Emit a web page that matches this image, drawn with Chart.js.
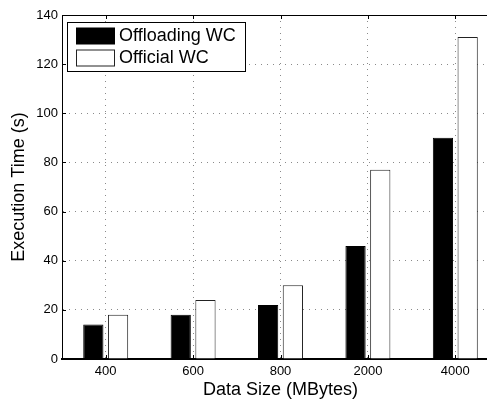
<!DOCTYPE html>
<html>
<head>
<meta charset="utf-8">
<script src="https://cdn.jsdelivr.net/npm/chart.js@4/dist/chart.umd.min.js"></script>
<style>
  html, body { margin: 0; padding: 0; background: #fff; overflow: hidden; }
  /* the axes run past the right edge of the figure and are clipped there */
  #wrap { width: 487px; height: 399px; overflow: hidden; }
  canvas { display: block; }
</style>
</head>
<body>
<div id="wrap"><canvas id="c" width="499" height="399"></canvas></div>
<script>
// Data sizes on the x axis
const categories = ['400', '600', '800', '2000', '4000'];
// Execution time in seconds
const offloadingWC = [14, 18, 22, 46, 90];
const officialWC = [18, 24, 30, 77, 131];
// Y axis tick values
const yTicks = [0, 20, 40, 60, 80, 100, 120, 140];

const FONT = "'Liberation Sans', Arial, Helvetica, sans-serif";

// Frame top edge, inward tick marks and the boxed legend
const framePlugin = {
  id: 'frame',
  afterDraw(chart) {
    const { ctx, chartArea: a, scales: { x, y } } = chart;
    ctx.save();
    ctx.strokeStyle = '#000';
    ctx.lineWidth = 1;
    // top edge
    ctx.beginPath();
    ctx.moveTo(a.left, Math.round(a.top) + 0.5);
    ctx.lineTo(a.right, Math.round(a.top) + 0.5);
    ctx.stroke();
    // inward ticks
    const tl = 4;
    ctx.beginPath();
    categories.forEach((c, i) => {
      const px = Math.round(x.getPixelForTick(i)) + 0.5;
      ctx.moveTo(px, a.bottom); ctx.lineTo(px, a.bottom - tl);
      ctx.moveTo(px, a.top); ctx.lineTo(px, a.top + tl);
    });
    yTicks.forEach(v => {
      const py = Math.round(y.getPixelForValue(v)) + 0.5;
      ctx.moveTo(a.left, py); ctx.lineTo(a.left + tl, py);
    });
    ctx.stroke();

    // legend
    const bx = a.left + 5.5, by = a.top + 7.5, bw = 178, bh = 49;
    ctx.fillStyle = '#fff';
    ctx.fillRect(bx, by, bw, bh);
    ctx.strokeStyle = '#000';
    ctx.strokeRect(bx, by, bw, bh);
    ctx.font = '18px ' + FONT;
    ctx.textBaseline = 'middle';
    ctx.textAlign = 'left';
    chart.data.datasets.forEach((ds, i) => {
      const sy = by + 5.5 + i * 22;
      ctx.fillStyle = ds.backgroundColor;
      ctx.fillRect(bx + 9, sy, 38, 16);
      ctx.strokeStyle = ds.borderColor;
      ctx.strokeRect(bx + 9, sy, 38, 16);
      ctx.fillStyle = '#000';
      ctx.fillText(ds.label, bx + 51.5, sy + 8.5);
    });
    ctx.restore();
  }
};

new Chart(document.getElementById('c'), {
  type: 'bar',
  data: {
    labels: categories,
    datasets: [
      {
        label: 'Offloading WC',
        data: offloadingWC,
        backgroundColor: '#000',
        borderColor: '#000',
        borderWidth: 1
      },
      {
        label: 'Official WC',
        data: officialWC,
        backgroundColor: '#fff',
        borderColor: '#222',
        borderWidth: 1
      }
    ]
  },
  options: {
    responsive: false,
    animation: false,
    devicePixelRatio: 1,
    categoryPercentage: 0.566,
    barPercentage: 0.818,
    layout: { padding: { left: 0, top: 15, right: 0, bottom: 0 } },
    plugins: { legend: { display: false }, tooltip: { enabled: false } },
    scales: {
      x: {
        offset: true,
        afterFit: (s) => { s.height = 40; },
        ticks: {
          autoSkip: false,
          maxRotation: 0,
          padding: 5,
          color: '#000',
          font: { family: FONT, size: 13 }
        },
        grid: { offset: false, color: '#8a8a8a', lineWidth: 1, drawTicks: false, z: -1 },
        border: { display: true, color: '#000', width: 2, dash: [1, 5] },
        title: {
          display: true,
          text: 'Data Size (MBytes)',
          color: '#000',
          font: { family: FONT, size: 18 },
          padding: { top: 0, bottom: -2 }
        }
      },
      y: {
        min: 0,
        max: 140,
        afterBuildTicks: (s) => { s.ticks = yTicks.map(v => ({ value: v })); },
        afterFit: (s) => { s.width = 62; },
        ticks: {
          padding: 4,
          color: '#000',
          font: { family: FONT, size: 13 }
        },
        grid: { color: '#8a8a8a', lineWidth: 1, drawTicks: false, z: -1 },
        border: { display: true, color: '#000', width: 1, dash: [1, 5] },
        title: {
          display: true,
          text: 'Execution Time (s)',
          color: '#000',
          font: { family: FONT, size: 18 },
          padding: { top: 8, bottom: 0 }
        }
      }
    }
  },
  plugins: [framePlugin]
});
</script>
</body>
</html>
